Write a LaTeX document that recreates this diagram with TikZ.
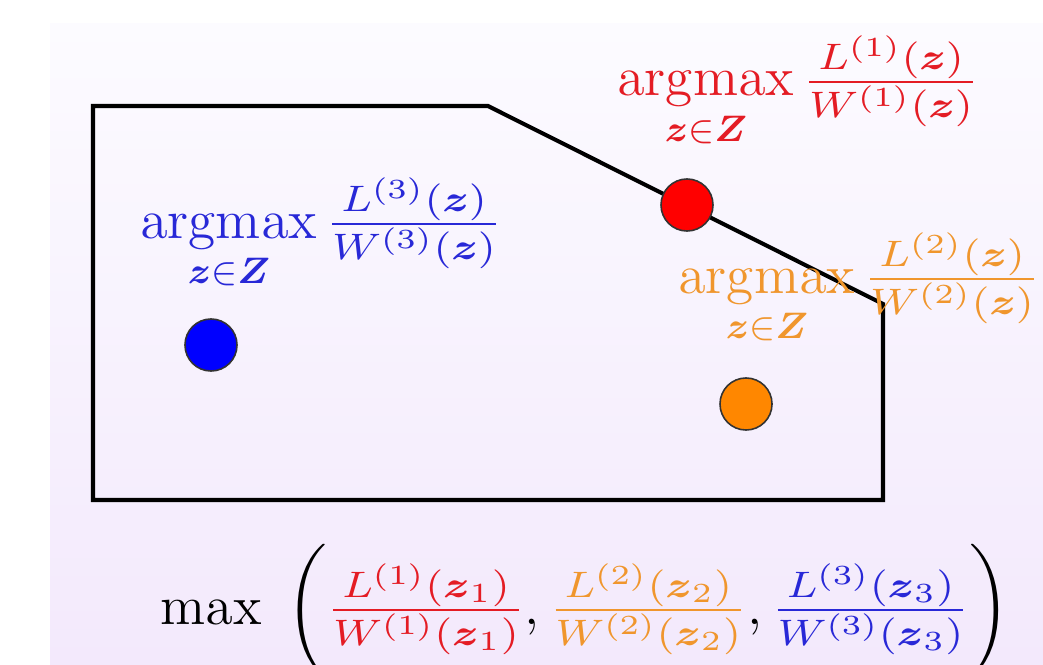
\documentclass[tikz,border=0pt]{standalone}
\usepackage{amsmath, amssymb}
\usepackage{xcolor}
\usepackage{tikz}
\usetikzlibrary{positioning}

\definecolor{labred}{RGB}{228,28,36}
\definecolor{laborange}{RGB}{240,150,45}
\definecolor{labblue}{RGB}{40,40,215}
\definecolor{dotorange}{RGB}{255,135,0}
\definecolor{bgtop}{RGB}{252,251,255}
\definecolor{bgbot}{RGB}{243,233,252}

\newcommand{\ratio}[2]{\scalebox{1.15}[1]{$\tfrac{L^{(#1)}(#2)}{W^{(#1)}(#2)}$}}
\newcommand{\argmaxlab}[1]{\displaystyle\operatorname*{argmax}_{\boldsymbol{z}\in\boldsymbol{Z}}\ratio{#1}{\boldsymbol{z}}}

\begin{document}
\begin{tikzpicture}[
    x=0.01cm, y=-0.01cm,
    region/.style={draw=black, line width=1.15pt, line join=miter},
    optpt/.style={circle, draw=black!80, line width=0.45pt, minimum size=0.52cm, inner sep=0pt},
    lab/.style={anchor=base west, inner sep=0pt, scale=1.31, font=\fontsize{12}{14.5}\selectfont}
]

    % Page and background
    \useasboundingbox (0,0) rectangle (1043,664);
    \shade[top color=bgtop, bottom color=bgbot] (50,24) rectangle (1043,664);

    % Feasible region
    \draw[region] (93,106) -- (488,106) -- (883,304) -- (883,500) -- (93,500) -- cycle;

    % Optimal points
    \node[optpt, fill=red] (p1) at (687,205) {};
    \node[optpt, fill=dotorange] (p2) at (746,404) {};
    \node[optpt, fill=blue] (p3) at (211,345) {};

    % Labels
    \node[lab, text=labred] (l1) at (617,96) {$\argmaxlab{1}$};
    \node[lab, text=laborange] (l2) at (678,293) {$\argmaxlab{2}$};
    \node[lab, text=labblue] (l3) at (140,238) {$\argmaxlab{3}$};

    % Overall maximum
    \node[lab] (total) at (160,624) {$\displaystyle\max\;\bigg(
        {\color{labred}\ratio{1}{\boldsymbol{z}_1}},
        {\color{laborange}\ratio{2}{\boldsymbol{z}_2}},
        {\color{labblue}\ratio{3}{\boldsymbol{z}_3}}
        \bigg)$};

\end{tikzpicture}
\end{document}
